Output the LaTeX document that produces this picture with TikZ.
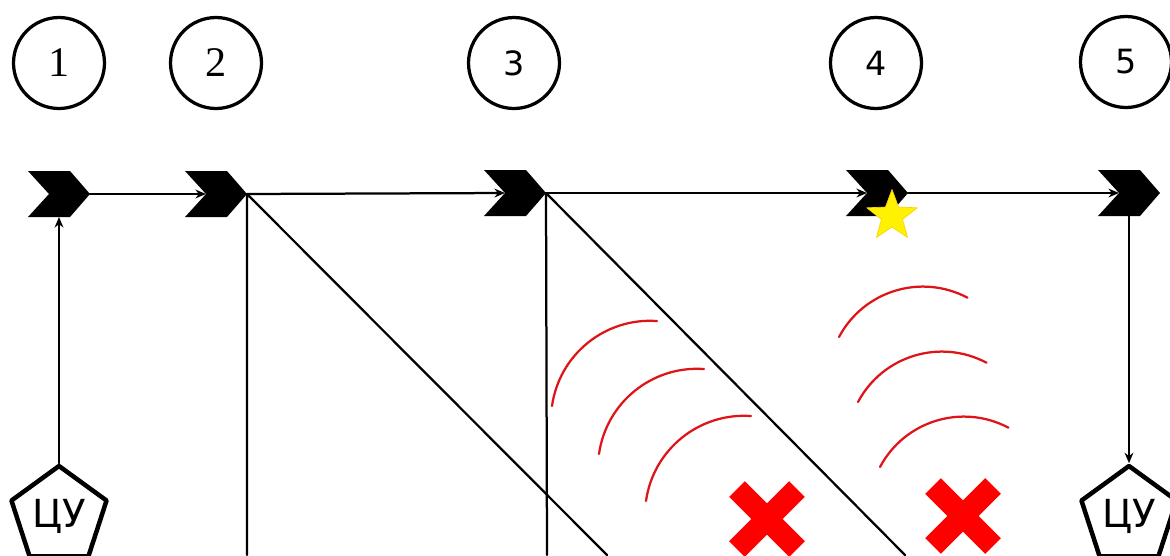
\documentclass[tikz,border=0pt]{standalone}
\usepackage{fontspec}
\setmainfont{Liberation Serif}
\newfontfamily\dejavu{DejaVu Sans}
\usetikzlibrary{arrows.meta,shapes.geometric}
\definecolor{wavered}{RGB}{222,20,24}
\begin{document}
\begin{tikzpicture}[x=.02cm,y=-.02cm,line cap=round,line join=round,
  num/.style={circle,draw,line width=.065cm,minimum size=1.82cm,inner sep=0pt,font=\fontsize{24}{24}\selectfont},
  snum/.style={num,font=\dejavu\fontsize{19}{19}\selectfont},
  cu/.style={regular polygon,regular polygon sides=5,draw,line width=.09cm,minimum size=2cm,inner sep=0pt,font=\dejavu\fontsize{22}{22}\selectfont},
  conn/.style={line width=.045cm},
  arr/.style={conn,-{Stealth[length=6pt,width=5pt]}},
  wave/.style={line width=.045cm,draw=wavered},
  chev/.pic={\fill (-31,-23) -- (11,-23) -- (31,0) -- (11,23) -- (-31,23) -- (-10,0) -- cycle;
    \coordinate (-tip) at (31,0); \coordinate (-notch) at (-10,0);
    \coordinate (-top) at (0,-23); \coordinate (-bot) at (0,23);},
  xmark/.pic={\draw[red,line width=.44cm,line cap=butt] (-30,-30) -- (30,30) (-30,30) -- (30,-30);}]
  \useasboundingbox (0,0) rectangle (1170,555);
  \clip (0,0) rectangle (1170,555);
  \node[num] (n1) at (59,63) {1};
  \node[num] (n2) at (216,63) {2};
  \node[snum] (n3) at (514,63) {3};
  \node[snum] (n4) at (876,63) {4};
  \node[snum] (n5) at (1126,62) {5};
  \pic (c1) at (59,194) {chev};
  \pic (c2) at (216,194) {chev};
  \pic (c3) at (515,193) {chev};
  \pic (c4) at (877,193) {chev};
  \pic (c5) at (1129,193) {chev};
  \node[cu] (cu1) at (59,516) {ЦУ};
  \node[cu] (cu2) at (1129,516) {ЦУ};
  \coordinate (v2) at (247,555);
  \coordinate (d2) at (607,555);
  \coordinate (v3) at (547,555);
  \coordinate (d3) at (905,555);
  \draw[arr] (c1-tip) -- (c2-notch);
  \draw[arr] (c2-tip) -- (c3-notch);
  \draw[arr] (c3-tip) -- (c4-notch);
  \draw[arr] (c4-tip) -- (c5-notch);
  \draw[arr] (cu1.corner 1) -- (c1-bot);
  \draw[arr] (c5-bot) -- (cu2.corner 1);
  \draw[conn] (c2-tip) -- (v2) (c2-tip) -- (d2);
  \draw[conn] (c3-tip) -- (v3) (c3-tip) -- (d3);
  \node[star,star points=5,star point ratio=2.4,fill=yellow,draw=yellow!70!orange,line width=.4pt,minimum size=1.06cm,inner sep=0pt] (s4) at (892,216) {};
  \foreach \dx/\dy in {0/0,47/48,94/95}
    \draw[wave,shift={(\dx,\dy)}] (552,406) arc[start angle=-172,end angle=-86,radius=99];
  \foreach \dx/\dy in {0/0,19/65,41/130}
    \draw[wave,shift={(\dx,\dy)}] (839,337) arc[start angle=-152,end angle=-62,radius=95];
  \pic (x1) at (767,519) {xmark};
  \pic (x2) at (963,516) {xmark};
\end{tikzpicture}
\end{document}
